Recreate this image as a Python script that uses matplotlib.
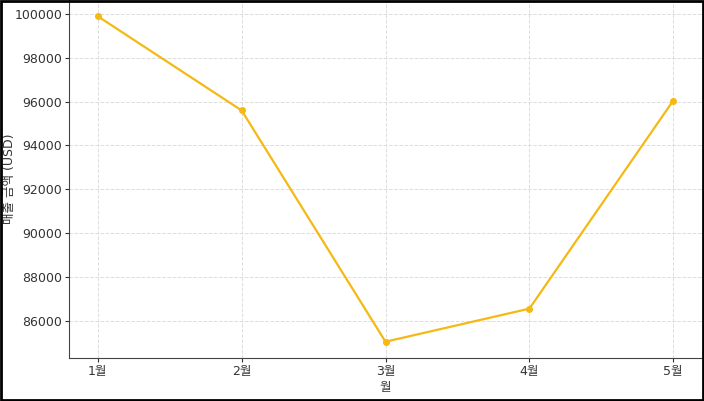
import matplotlib
matplotlib.use("Agg")
import matplotlib.pyplot as plt

plt.rcParams['font.family'] = ['DejaVu Sans', 'Noto Sans CJK KR']

months = ["1월", "2월", "3월", "4월", "5월"]
sales = [99900, 95600, 85040, 86550, 96050]

fig = plt.figure(figsize=(7.04, 4.01), dpi=100)
ax = fig.add_axes([69/704, 1 - 358/401, (702-69)/704, 358/401])
x = list(range(len(months)))
ax.plot(x, sales, color='#F5B914', marker='o', markersize=4, linewidth=1.6)
ax.set_xticks(x)
ax.set_xticklabels(months)
ax.set_xlabel("월", fontsize=9, color='#333333', labelpad=2)
ax.set_ylabel("매출 금액 (USD)", fontsize=9, color='#333333')
ax.yaxis.set_label_coords(-0.083, 0.5)
ax.grid(True, linestyle='--', color='#dddddd', linewidth=0.7)
ax.spines['top'].set_visible(False)
ax.spines['right'].set_visible(False)
ax.spines['left'].set_color('#444444')
ax.spines['bottom'].set_color('#444444')
ax.tick_params(labelsize=9, colors='#333333', length=3, pad=2)
ax.set_yticks([86000, 88000, 90000, 92000, 94000, 96000, 98000, 100000])

border = plt.Rectangle((0.0015, 0.0025), 0.997, 0.995, transform=fig.transFigure,
                       fill=False, edgecolor='black', linewidth=2, zorder=10)
fig.patches.append(border)
fig.savefig("out.png", dpi=100)
